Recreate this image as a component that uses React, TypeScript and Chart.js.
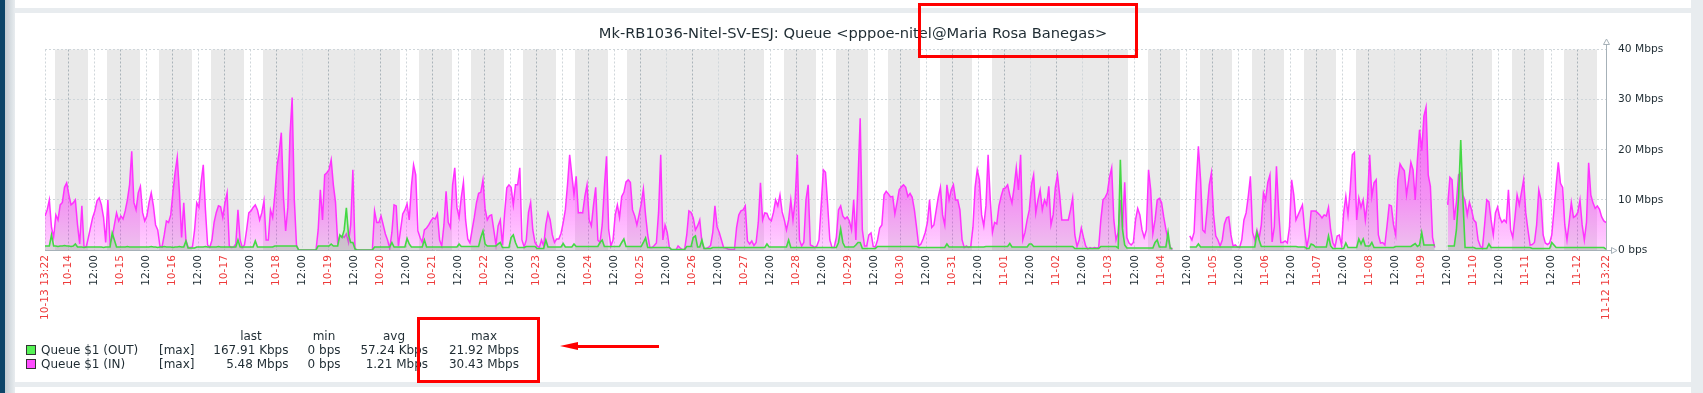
import React, { useEffect, useRef } from 'react';
import { Chart, registerables } from 'chart.js';
Chart.register(...registerables);

// ---- time frame ----
const TOTAL_HOURS = 720; // 10-13 13:22 .. 11-12 13:22
const START_TIME_OF_DAY = 13 + 22 / 60;
const START_WEEKDAY = 0; // 2025-10-13 is a Monday
const WORK_START = 9;
const WORK_END = 18;

// ---- tick labels ----
const DAY_LABELS = ['10-14', '10-15', '10-16', '10-17', '10-18', '10-19', '10-20', '10-21', '10-22', '10-23', '10-24', '10-25', '10-26', '10-27', '10-28', '10-29', '10-30', '10-31', '11-01', '11-02', '11-03', '11-04', '11-05', '11-06', '11-07', '11-08', '11-09', '11-10', '11-11', '11-12'];
const START_LABEL = '10-13 13:22';
const END_LABEL = '11-12 13:22';
const NOON_LABEL = '12:00';
const Y_TICKS = [0, 10, 20, 30, 40];
const Y_TICK_LABELS = ['0 bps', '10 Mbps', '20 Mbps', '30 Mbps', '40 Mbps'];

// ---- series: hourly max, Mbps (index = hours since 10-13 13:22) ----
const IN_MBPS: (number | null)[] = [
  6.8, 8, 10, 4.5, 2.5, 7, 6, 9, 9.5, 12.5, 13.4, 11, 9, 9.4, 10, 5, 1.2, 8.8, 0.7, 0.6, 2.5, 4.5, 6.5, 7.8,
  9.8, 10.4, 9, 6.5, 1.5, 10, 1.5, 2.5, 5, 7.4, 5.8, 6.8, 6.2, 7.8, 10, 13, 19.7, 9.5, 8, 11.4, 12.7, 7.5, 5.8, 6.8,
  9.5, 11.4, 8.8, 5, 4, 0.8, 0.6, 3, 5.8, 5.5, 7, 11.5, 15.4, 18.5, 11.5, 2.5, 9.4, 2, 0.5, 0.5, 0.6, 4, 9.4, 8.5,
  13.5, 17, 8, 1, 0.5, 2, 5.5, 7.5, 8.8, 8.6, 6.5, 9.4, 11.4, 0.8, 0.5, 0.6, 1.2, 8, 2, 0.5, 1, 4, 7.4, 7.8,
  8.5, 9, 8, 6, 7.4, 9.8, 2, 2, 8, 6.5, 11, 16.7, 19.5, 23.4, 10.5, 3.8, 8.5, 23, 30.4, 10, 1, 0, 0, 0,
  0, 0, 0, 0, 0, 0, 4, 12, 6, 15, 15.4, 16, 18, 13, 9.5, 1.5, 2.8, 2.8, 2.5, 3.2, 1.5, 5, 16, 0.2,
  0, 0, 0, 0, 0, 0, 0, 0, 7.8, 5.5, 5.5, 6.8, 5, 3.2, 2, 0.3, 3.5, 9, 8.8, 0.8, 4, 7.2, 8, 9.2,
  6, 12.7, 17, 15, 3.8, 2.5, 1.5, 4, 4.4, 5, 5.8, 6.4, 6.2, 7.2, 2, 0.8, 5, 11.7, 5.5, 4.5, 13, 16.4, 8.5, 6.5,
  10.5, 13.5, 6, 2.2, 1.4, 4, 6.5, 9.4, 11.3, 11.5, 14, 8.2, 6, 6.8, 7, 4, 1, 4.8, 6, 1, 7.4, 12.4, 13, 12.5,
  9, 13, 13, 16.4, 2, 0.6, 2, 7.5, 9.5, 4, 1.5, 0.8, 0.5, 2, 0.8, 5, 7.4, 6, 3, 1.5, 2.2, 2.2, 3.3, 5.4,
  8, 13, 19, 15, 11, 14.7, 7.4, 7.5, 7.4, 10.7, 13, 6, 4.8, 9, 12.5, 2, 1.5, 5, 12.5, 18.7, 4, 0.8, 2, 7,
  9, 6.5, 10.7, 11.5, 13.6, 14, 13.5, 8, 6.8, 5, 7, 9.2, 12.2, 7, 3, 0.5, 0.5, 0.9, 1.4, 7.5, 19, 2, 5, 3.5,
  0.5, 0, 0, 0, 0.8, 0.4, 0.1, 0.1, 3, 7.8, 7.5, 6.4, 4, 4.8, 6, 1.5, 0.3, 0.3, 0.5, 0.9, 3.5, 8.8, 4.6, 3.5,
  2, 0.5, 0.4, 0.2, 0.1, 0.1, 0.1, 4.5, 7, 7.8, 8, 8.8, 1.8, 1.2, 1.8, 0.9, 1.5, 5.5, 13.4, 6, 7.4, 7.3, 6.2, 5.8,
  7.5, 10, 8.8, 11, 7.6, 6, 4, 6, 10, 6, 10, 19, 2, 0.8, 1.5, 10, 13, 1, 0.8, 0.5, 0.8, 2, 8.8, 16,
  15.5, 9, 2, 0.5, 0.5, 2.5, 8, 8.8, 6.8, 6.2, 6.6, 5.8, 4, 10, 2, 14, 26.3, 4, 0.8, 0.8, 3, 3.4, 0.7, 0.6,
  2, 4.4, 5, 11, 11.7, 11.2, 10.6, 10.7, 7.2, 9.5, 12, 12.6, 13, 12.5, 10.7, 11.3, 10.5, 8, 4.5, 0.8, 1.2, 2.2, 3.5, 5.5,
  10, 4.5, 5, 7.8, 10.5, 12.5, 7, 5, 13, 10, 12, 13, 10, 10, 8, 2, 0.5, 0.8, 0.5, 0.7, 4.5, 12.5, 16, 14,
  7, 4.8, 8.8, 19, 10, 3.5, 5.5, 5.2, 8.8, 10.7, 12.2, 12.4, 13, 11, 9.4, 12.5, 16.4, 12, 19, 2, 3.5, 6, 8, 13,
  15, 7.4, 10, 12, 8, 10, 9, 12.7, 5, 7, 12.5, 15, 11, 6, 6, 6, 6, 8, 10.4, 3, 0.7, 2, 4.4, 2.5,
  0.8, 0.2, 0.5, 0.3, 0.5, 0.4, 0.5, 6, 10, 10.5, 11.4, 14.5, 16.4, 6, 2, 3.5, 10, 4.5, 13.5, 2.5, 1.4, 1, 1.5, 6,
  8.3, 7, 4, 2.5, 4, 16, 12, 3.3, 6, 10, 10.3, 9.5, 6.6, 4.1, 2, 0.6, 0.1, null, null, null, null, null, null, null,
  2.8, 2, 3.5, 13, 20.7, 14, 4, 3.5, 8, 13, 15.4, 7, 2.8, 2, 0.8, 2, 5.2, 6.4, 6.6, 3, 0.8, 1, 0.6, 0.5,
  2, 6, 7.4, 10.7, 14.7, 3.5, 2, 4, 2.3, 5, 11.4, 10, 13.5, 15, 1.6, 4.6, 16.7, 8, 1.5, 1.5, 1.8, 1.4, 4.5, 14,
  11, 6, 7, 8, 9, 4, 0.6, 2.8, 7.8, 7.8, 7.8, 7.4, 7, 6.4, 7, 6.8, 8.5, 4, 1.5, 0.6, 2.8, 3, 1, 7.4,
  10.7, 7, 12, 19, 19.5, 6, 10.4, 8.5, 10, 6, 10, 19, 10.7, 13.4, 14, 3, 1.4, 1.5, 1, 4.8, 9, 8.8, 5, 3,
  14, 17.2, 16.4, 15.8, 11, 14, 17.5, 16, 10, 18, 24, 19.8, 26.7, 28.5, 15, 12.7, 2.5, 0.5, null, null, null, null, null, 9,
  14.5, 14, 6, 9.5, 15, 15.4, 11, 9.8, 7, 9.5, 8, 6, 5.5, 2, 0.8, 0.3, 5, 10, 9.6, 6, 3, 7.4, 8.6, 6.5,
  5.5, 6, 5.5, 12, 4, 2.5, 6.5, 11, 9, 11.5, 14, 7.4, 4, 1, 1.1, 1.5, 5, 12, 10, 3, 1.4, 1.1, 1.4, 3,
  8, 13, 17.5, 13.3, 12.5, 5, 2, 5.5, 9.5, 6.5, 6.8, 7.5, 10, 5, 2, 5.5, 17.4, 11, 9.4, 8.3, 8.8, 8.1, 6.6, 5.8,
  5.48,
];

const OUT_MBPS: (number | null)[] = [
  0.8, 0.8, 0.8, 3, 0.8, 0.8, 0.7, 0.8, 0.8, 0.9, 0.8, 0.8, 0.7, 0.8, 1.2, 0.6, 0.6, 0.6, 0.5, 0.6, 0.6, 0.6, 0.6, 0.6,
  0.6, 0.6, 0.6, 0.5, 0.6, 0.6, 0.6, 3.4, 2, 0.6, 0.6, 0.6, 0.6, 0.6, 0.7, 0.6, 0.6, 0.6, 0.6, 0.6, 0.6, 0.6, 0.6, 0.6,
  0.6, 0.7, 0.6, 0.6, 0.5, 0.6, 0.6, 0.7, 0.6, 0.6, 0.6, 0.5, 0.6, 0.6, 0.7, 0.6, 0.6, 1.8, 0.4, 0.4, 0.4, 0.4, 0.6, 0.6,
  0.6, 0.6, 0.7, 0.6, 0.6, 0.6, 0.6, 0.6, 0.7, 0.6, 0.6, 0.6, 0.6, 0.6, 0.6, 0.6, 0.6, 2, 0.6, 0.6, 0.6, 0.6, 0.6, 0.6,
  0.6, 1.8, 0.6, 0.6, 0.6, 0.6, 0.6, 0.6, 0.6, 0.6, 0.8, 0.8, 0.8, 0.8, 0.8, 0.8, 0.8, 0.8, 0.8, 0.8, 0.8, 0, 0, 0,
  0, 0, 0, 0, 0, 0, 0.8, 0.8, 0.8, 0.8, 0.8, 0.8, 1.2, 0.8, 0.8, 0.8, 3, 2.5, 4, 8.4, 3, 1.5, 1.5, 0.2,
  0, 0, 0, 0, 0, 0, 0, 0, 0.6, 0.6, 0.6, 0.6, 0.6, 0.6, 0.6, 0.6, 1.5, 0.6, 0.6, 0.6, 0.6, 0.6, 0.6, 2.3,
  1.2, 0.6, 0.6, 0.6, 0.6, 0.6, 0.6, 2, 0.6, 0.6, 0.6, 0.6, 0.6, 0.6, 0.6, 0.6, 0.6, 0.6, 0.6, 0.6, 0.6, 0.6, 0.6, 1.2,
  0.7, 0.7, 0.7, 0.7, 0.7, 0.7, 0.7, 0.7, 0.7, 2.5, 3.8, 1.2, 0.8, 0.8, 0.8, 0.8, 0.8, 1.2, 1.5, 0.5, 0.5, 0.5, 0.5, 2.5,
  3, 1.5, 0.5, 0.5, 0.5, 0.5, 0.7, 0.7, 0.7, 0.7, 0.7, 0.3, 0.3, 0.3, 0.3, 2, 0.6, 0.6, 0.6, 0.6, 0.6, 0.6, 0.6, 1.3,
  0.6, 0.6, 0.6, 0.6, 1.2, 0.7, 0.7, 0.7, 0.7, 0.7, 0.7, 0.7, 0.7, 0.7, 0.7, 0.7, 1.5, 2, 0.7, 0.7, 0.7, 0.7, 0.7, 0.7,
  0.7, 0.7, 1.5, 2.2, 0.7, 0.7, 0.7, 0.7, 0.7, 0.7, 0.7, 0.7, 1.5, 2.4, 0.5, 0.5, 0.5, 0.5, 0.5, 0.5, 0.5, 0.5, 0.5, 0.5,
  0.5, 0.1, 0.1, 0.1, 0.1, 0.1, 0.1, 0.1, 0.7, 0.7, 0.7, 2.5, 2.8, 0.6, 0.6, 2, 0.3, 0.3, 0.3, 0.3, 0.5, 0.5, 0.5, 0.5,
  0.5, 0.5, 0.5, 0.5, 0.5, 0.5, 0.5, 0.5, 0.5, 0.5, 0.5, 0.5, 0.5, 0.5, 0.5, 0.5, 0.5, 0.5, 0.5, 0.5, 0.5, 1.2, 0.6, 0.6,
  0.6, 0.6, 0.6, 0.6, 0.6, 0.6, 0.6, 2, 0.5, 0.5, 0.5, 0.5, 0.5, 0.5, 0.5, 0.5, 0.5, 0.5, 0.5, 0.5, 0.5, 0.5, 0.5, 0.5,
  0.5, 0.5, 0.5, 0.5, 0.5, 0.5, 1.5, 4.2, 1.5, 0.6, 0.6, 0.6, 0.6, 0.6, 1, 1.5, 1.5, 0.3, 0.3, 0.3, 0.3, 0.3, 0.3, 0.3,
  0.7, 0.7, 0.7, 0.7, 0.7, 0.7, 0.7, 0.7, 0.7, 0.7, 0.7, 0.7, 0.7, 0.7, 0.7, 0.7, 0.7, 0.7, 0.7, 0.5, 0.5, 0.5, 0.5, 0.5,
  0.5, 0.5, 0.5, 0.5, 0.5, 0.5, 0.5, 0.5, 1.2, 0.6, 0.6, 0.6, 0.6, 0.6, 0.6, 0.6, 0.6, 0.6, 0.6, 0.6, 0.6, 0.6, 0.6, 0.6,
  0.6, 0.6, 0.7, 0.7, 0.7, 0.7, 0.7, 0.7, 0.7, 0.7, 0.7, 0.7, 0.7, 1.3, 0.6, 0.6, 0.6, 0.6, 0.6, 0.6, 0.6, 0.6, 1.2, 1.2,
  0.7, 0.7, 0.7, 0.7, 0.7, 0.7, 0.7, 0.7, 0.7, 0.7, 0.7, 0.7, 0.7, 0.7, 0.7, 0.7, 0.7, 0.7, 0.7, 0.3, 0.3, 0.3, 0.3, 0.3,
  0.3, 0.3, 0.3, 0.3, 0.3, 0.3, 0.3, 0.7, 0.7, 0.7, 0.7, 0.7, 0.7, 0.7, 0.7, 0.4, 18, 4.1, 1, 0.4, 0.4, 0.4, 0.4, 0.4,
  0.4, 0.4, 0.4, 0.4, 0.4, 0.4, 0.4, 0.4, 1.5, 2, 0.6, 0.6, 0.6, 0.6, 3.5, 0.3, 0.3, null, null, null, null, null, null, null,
  0.6, 0.6, 0.6, 0.6, 1.2, 0.6, 0.6, 0.6, 0.6, 0.6, 0.6, 0.6, 0.6, 0.6, 0.6, 0.6, 0.6, 0.6, 0.6, 0.6, 0.6, 0.6, 0.6, 0.6,
  0.6, 0.6, 0.6, 0.6, 0.6, 0.6, 0.6, 3.5, 2, 0.7, 0.7, 0.7, 0.7, 0.7, 0.7, 0.7, 0.7, 0.7, 0.7, 0.7, 0.7, 0.7, 0.7, 0.7,
  0.7, 0.7, 0.6, 0.6, 0.6, 0.6, 0.3, 0.3, 1.2, 1, 0.6, 0.6, 0.6, 0.6, 0.6, 0.6, 2.8, 0.8, 0.3, 0.3, 0.3, 0.3, 0.3, 0.3,
  1.4, 0.5, 0.5, 0.5, 0.5, 0.5, 2.2, 1.2, 2.2, 0.8, 0.8, 0.8, 1.5, 0.5, 0.5, 0.5, 0.5, 0.5, 0.5, 0.5, 0.5, 0.5, 0.5, 0.7,
  0.7, 0.7, 0.7, 0.7, 0.7, 0.7, 0.7, 1, 1.3, 0.7, 1, 3.5, 1, 1, 1, 1, 1, 1, null, null, null, null, null, 0.8,
  0.8, 0.8, 0.8, 4, 10.7, 21.92, 10, 0.5, 0.5, 0.5, 0.5, 0.5, 0.3, 0.3, 0.3, 0.3, 0.3, 0.3, 1.2, 0.5, 0.5, 0.5, 0.5, 0.5,
  0.5, 0.5, 0.5, 0.5, 0.5, 0.5, 0.5, 0.5, 0.5, 0.5, 0.5, 0.5, 0.5, 0.5, 0.3, 0.3, 0.3, 0.3, 0.3, 0.3, 0.3, 0.3, 0.3, 1.5,
  1, 0.5, 0.5, 0.5, 0.5, 0.5, 0.5, 0.5, 0.5, 0.5, 0.5, 0.5, 0.5, 0.5, 0.5, 0.5, 0.5, 0.5, 0.5, 0.5, 0.5, 0.5, 0.5, 0.5,
  0.17,
];

// ---- legend table ----
const LEGEND_HEADERS = ['last', 'min', 'avg', 'max'];
const LEGEND_ROWS = [
  { name: 'Queue $1 (OUT)', fn: '[max]', values: ['167.91 Kbps', '0 bps', '57.24 Kbps', '21.92 Mbps'], color: '#55f255' },
  { name: 'Queue $1 (IN)', fn: '[max]', values: ['5.48 Mbps', '0 bps', '1.21 Mbps', '30.43 Mbps'], color: '#ff4dff' },
];
const TITLE = 'Mk-RB1036-Nitel-SV-ESJ: Queue <pppoe-nitel@Maria Rosa Banegas>';

// ---- styles ----
const FONT = '"DejaVu Sans", sans-serif';
const TEXT = '#1f2c33';
const DATE_RED = '#ee3b3b';
const AXIS = '#a6b1b8';
const GRID_MAJOR = '#a9b3b9';
const GRID_MINOR = '#cfd6da';
const BAND = '#e9e9e9';

type Tk = { hour: number; label: string; date: boolean; major: boolean };
function buildTicks(): Tk[] {
  const t: Tk[] = [{ hour: 0, label: START_LABEL, date: true, major: false }];
  DAY_LABELS.forEach((lab, d) => {
    const midnight = 24 * (d + 1) - START_TIME_OF_DAY;
    t.push({ hour: midnight, label: lab, date: true, major: true });
    const noon = midnight + 12;
    if (noon < TOTAL_HOURS - 4) t.push({ hour: noon, label: NOON_LABEL, date: false, major: false });
  });
  t.push({ hour: TOTAL_HOURS, label: END_LABEL, date: true, major: false });
  return t;
}
const TICKS = buildTicks();

function offHours(): [number, number][] {
  const res: [number, number][] = [];
  for (let d = 0; d <= 31; d++) {
    const base = 24 * d - START_TIME_OF_DAY;
    const wd = (START_WEEKDAY + d) % 7;
    const spans: [number, number][] = wd >= 5 ? [[base, base + 24]] : [[base, base + WORK_START], [base + WORK_END, base + 24]];
    spans.forEach(([s, e]) => {
      const a = Math.max(0, s), b = Math.min(TOTAL_HOURS, e);
      if (b > a) res.push([a, b]);
    });
  }
  return res;
}
const OFF = offHours();

const zabbixPlugin = {
  id: 'zabbixDecor',
  beforeDraw(chart: any) {
    const { ctx, chartArea: a, scales } = chart;
    const x = scales.x;
    ctx.save();
    ctx.fillStyle = BAND;
    OFF.forEach(([s, e]) => {
      const x1 = Math.round(x.getPixelForValue(s));
      const x2 = Math.round(x.getPixelForValue(e));
      ctx.fillRect(x1, a.top, x2 - x1, a.bottom - a.top);
    });
    ctx.restore();
  },
  afterDraw(chart: any) {
    const { ctx, chartArea: a } = chart;
    const xr = Math.round(a.right) + 0.5;
    const yb = Math.round(a.bottom) + 0.5;
    ctx.save();
    ctx.strokeStyle = AXIS;
    ctx.fillStyle = '#ffffff';
    ctx.lineWidth = 1;
    ctx.beginPath();
    ctx.moveTo(xr, a.top);
    ctx.lineTo(xr, a.top - 5);
    ctx.stroke();
    ctx.beginPath();
    ctx.moveTo(xr, a.top - 10.5);
    ctx.lineTo(xr - 3, a.top - 5);
    ctx.lineTo(xr + 3, a.top - 5);
    ctx.closePath();
    ctx.fill();
    ctx.stroke();
    ctx.beginPath();
    ctx.moveTo(a.right, yb);
    ctx.lineTo(a.right + 5, yb);
    ctx.stroke();
    ctx.beginPath();
    ctx.moveTo(a.right + 11, yb);
    ctx.lineTo(a.right + 5.5, yb - 3);
    ctx.lineTo(a.right + 5.5, yb + 3);
    ctx.closePath();
    ctx.fill();
    ctx.stroke();
    ctx.restore();
  },
};

function ZabbixChart() {
  const ref = useRef<HTMLCanvasElement | null>(null);
  useEffect(() => {
    if (!ref.current) return;
    const inFill = (c: any) => {
      const a = c.chart.chartArea;
      if (!a) return 'rgba(255,51,255,0.35)';
      const g = c.chart.ctx.createLinearGradient(0, a.top, 0, a.bottom);
      g.addColorStop(0, 'rgba(255,51,255,0.8)');
      g.addColorStop(0.5, 'rgba(255,51,255,0.6)');
      g.addColorStop(0.75, 'rgba(255,51,255,0.47)');
      g.addColorStop(1, 'rgba(255,51,255,0.22)');
      return g;
    };
    const chart = new Chart(ref.current, {
      type: 'line',
      data: {
        datasets: [
          {
            label: LEGEND_ROWS[0].name,
            data: OUT_MBPS.map((v, i) => ({ x: i, y: v })) as any,
            borderColor: '#44d844',
            backgroundColor: 'rgba(70,220,70,0.2)',
            borderWidth: 1.6,
            fill: 'origin',
            pointRadius: 0,
            tension: 0,
            spanGaps: false,
          },
          {
            label: LEGEND_ROWS[1].name,
            data: IN_MBPS.map((v, i) => ({ x: i, y: v })) as any,
            borderColor: '#ff33ff',
            backgroundColor: inFill,
            borderWidth: 1.5,
            fill: 'origin',
            pointRadius: 0,
            tension: 0,
            spanGaps: false,
          },
        ],
      },
      options: {
        responsive: false,
        animation: false,
        devicePixelRatio: 1,
        events: [],
        layout: { padding: { left: 45, top: 49.5, right: 0, bottom: 0 } },
        plugins: { legend: { display: false }, tooltip: { enabled: false }, title: { display: false } },
        scales: {
          x: {
            type: 'linear',
            min: 0,
            max: TOTAL_HOURS,
            afterBuildTicks: (s: any) => {
              s.ticks = TICKS.map((t) => ({ value: t.hour }));
            },
            afterFit: (s: any) => {
              s.height = 393 - 250;
            },
            ticks: {
              autoSkip: false,
              minRotation: 90,
              maxRotation: 90,
              padding: 5,
              font: { family: 'DejaVu Sans', size: 10.67 },
              color: (c: any) => (TICKS[c.index] && TICKS[c.index].date ? DATE_RED : TEXT),
              callback: (_v: any, i: number) => (TICKS[i] ? TICKS[i].label : ''),
            },
            grid: {
              drawTicks: false,
              tickLength: 0,
              color: (c: any) => (TICKS[c.index] && TICKS[c.index].major ? GRID_MAJOR : GRID_MINOR),
            },
            border: { color: AXIS, dash: [2, 2] },
          },
          y: {
            position: 'right',
            min: 0,
            max: 40,
            afterBuildTicks: (s: any) => {
              s.ticks = Y_TICKS.map((v) => ({ value: v }));
            },
            afterFit: (s: any) => {
              s.width = 1703 - 1606;
            },
            ticks: {
              padding: 12,
              font: { family: 'DejaVu Sans', size: 10.67 },
              color: TEXT,
              callback: (_v: any, i: number) => Y_TICK_LABELS[i],
            },
            grid: { drawTicks: false, tickLength: 0, color: GRID_MINOR },
            border: { color: AXIS, dash: [2, 2] },
          },
        },
      } as any,
      plugins: [zabbixPlugin],
    });
    return () => chart.destroy();
  }, []);
  return <canvas ref={ref} width={1703} height={393} style={{ position: 'absolute', left: 0, top: 0, width: 1703, height: 393 }} />;
}

function Txt(props: { x: number; top: number; w?: number; align?: 'left' | 'right' | 'center'; children: React.ReactNode; size?: number; lh?: number }) {
  const w = props.w ?? 200;
  const align = props.align ?? 'left';
  const left = align === 'left' ? props.x : align === 'right' ? props.x - w : props.x - w / 2;
  return (
    <div style={{ position: 'absolute', left, top: props.top, width: w, textAlign: align, fontSize: props.size ?? 12, lineHeight: `${props.lh ?? 14}px`, whiteSpace: 'pre', color: TEXT }}>
      {props.children}
    </div>
  );
}

const HEADER_CENTERS = [251, 324, 394, 484];
const VALUE_RIGHTS = [288.5, 340.5, 428, 519];

export default function App() {
  return (
    <div style={{ position: 'fixed', left: 0, top: 0, width: 1703, height: 393, background: '#ffffff', overflow: 'hidden', fontFamily: FONT }}>
      <div style={{ position: 'absolute', left: 0, top: 0, width: 5, height: 393, background: '#0d4569' }} />
      <div style={{ position: 'absolute', left: 5, top: 0, width: 10, height: 393, background: 'linear-gradient(to right, #c3ccd2, #e8ecef)' }} />
      <div style={{ position: 'absolute', left: 15, top: 8, width: 1688, height: 5, background: '#e8ecef' }} />
      <div style={{ position: 'absolute', left: 15, top: 382, width: 1688, height: 5, background: '#e8ecef' }} />
      <div style={{ position: 'absolute', left: 1691, top: 0, width: 12, height: 393, background: '#e8ecef' }} />

      <ZabbixChart />

      <Txt x={853} top={23.5} w={900} align="center" size={14.67} lh={17}>{TITLE}</Txt>

      {LEGEND_HEADERS.map((h, i) => (
        <Txt key={h} x={HEADER_CENTERS[i]} top={329} w={80} align="center">{h}</Txt>
      ))}
      {LEGEND_ROWS.map((r, ri) => (
        <React.Fragment key={r.name}>
          <div style={{ position: 'absolute', left: 26, top: 345 + ri * 14, width: 10, height: 10, boxSizing: 'border-box', border: '1px solid #333', background: r.color }} />
          <Txt x={41} top={343 + ri * 14}>{r.name}</Txt>
          <Txt x={159} top={343 + ri * 14}>{r.fn}</Txt>
          {r.values.map((v, vi) => (
            <Txt key={vi} x={VALUE_RIGHTS[vi]} top={343 + ri * 14} w={120} align="right">{v}</Txt>
          ))}
        </React.Fragment>
      ))}

      <div style={{ position: 'absolute', left: 918, top: 3, width: 220, height: 55, boxSizing: 'border-box', border: '3px solid #ff0000' }} />
      <div style={{ position: 'absolute', left: 417, top: 317, width: 123, height: 66, boxSizing: 'border-box', border: '3px solid #ff0000' }} />
      <div style={{ position: 'absolute', left: 575, top: 344.5, width: 84, height: 3, background: '#ff0000' }} />
      <div style={{ position: 'absolute', left: 560, top: 341.5, width: 0, height: 0, borderTop: '4.5px solid transparent', borderBottom: '4.5px solid transparent', borderRight: '18px solid #ff0000' }} />
    </div>
  );
}
